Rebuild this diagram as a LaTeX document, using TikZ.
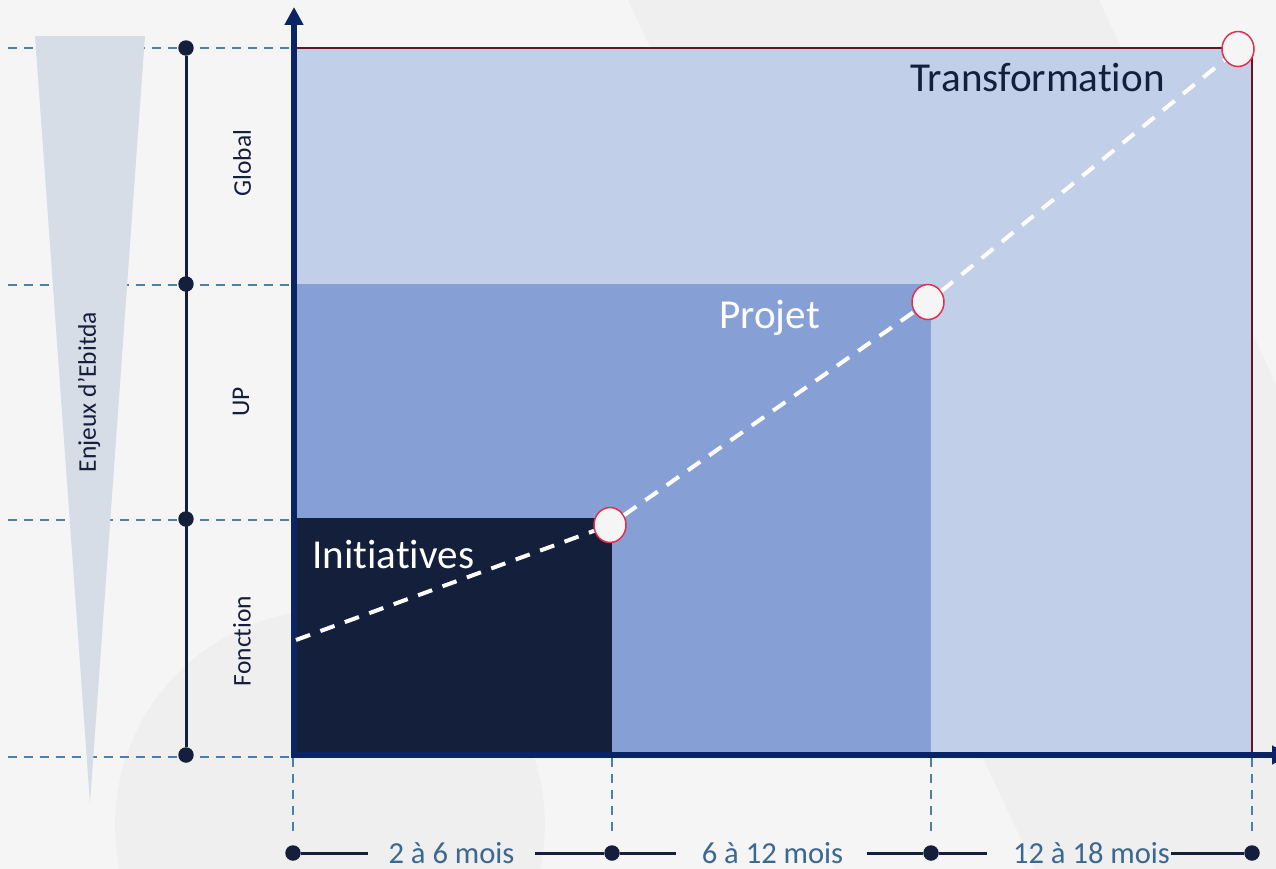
\documentclass[tikz,border=0pt]{standalone}
\usepackage{fontspec}
\setmainfont{Carlito}[Ligatures=NoCommon]
\usetikzlibrary{arrows.meta,shapes.geometric,calc}
\definecolor{bgc}{HTML}{F5F5F5}
\definecolor{bgshape}{HTML}{EFEFEF}
\definecolor{navy}{HTML}{0B2463}
\definecolor{ink}{HTML}{141F3B}
\definecolor{lightblue}{HTML}{C1CFE9}
\definecolor{midblue}{HTML}{86A0D6}
\definecolor{darkred}{HTML}{6D1022}
\definecolor{guide}{HTML}{4A80AA}
\definecolor{labelblue}{HTML}{3A6890}
\definecolor{circred}{HTML}{E0304E}
\definecolor{tri}{HTML}{D6DDE7}
\begin{document}
\begin{tikzpicture}[x=0.02cm,y=-0.02cm,
  guideline/.style={draw=guide,line width=0.04cm,dash pattern=on 0.18cm off 0.14cm},
  dot/.style={circle,fill=ink,inner sep=0pt,minimum size=0.31cm},
  milestone/.style={ellipse,draw=circred,line width=0.03cm,fill=bgc,inner sep=0pt,minimum width=0.64cm,minimum height=0.7cm},
  axisline/.style={draw=navy,line width=0.12cm,-{Triangle[width=0.36cm,length=0.36cm]}},
  sidelabel/.style={rotate=90,text=ink,font=\fontsize{14.5}{16}\selectfont,inner sep=0pt},
  phase/.style={font=\fontsize{23.4}{26}\selectfont,inner sep=0pt,anchor=base west},
  period/.style={text=labelblue,font=\fontsize{17.4}{20}\selectfont,inner sep=0pt,anchor=base},
  scaleline/.style={draw=ink,line width=0.06cm},
  pathline/.style={draw=white,line width=0.08cm,dash pattern=on 0.3cm off 0.22cm}
]
\useasboundingbox (0,0) rectangle (1276,869);
% background
\fill[bgc] (0,0) rectangle (1276,869);
\fill[bgshape] (628,0) -- (1099,0) -- (1499,869) -- (1035,869) -- cycle;
\fill[bgshape] (330,825) circle (4.3cm);
% horizontal guides
\foreach \yy in {48,285,520,757} \draw[guideline] (8,\yy) -- (293,\yy);
% Ebitda triangle
\fill[tri] (35,36) -- (145,36) -- (90,803) -- cycle;
\node[sidelabel] (enjeux) at (89,392) {Enjeux d’Ebitda};
% vertical scale
\node[dot] (v0) at (186,48) {};
\node[dot] (v1) at (186,284) {};
\node[dot] (v2) at (186,519) {};
\node[dot] (v3) at (186,755) {};
\draw[scaleline] (v0) -- (v3);
\node[sidelabel] (global) at (242,163) {Global};
\node[sidelabel] (up) at (241,402) {UP};
\node[sidelabel] (fonction) at (242,641) {Fonction};
% areas
\filldraw[fill=lightblue,draw=darkred,line width=0.05cm] (293,48) rectangle (1252,755);
\fill[midblue] (293,284) rectangle (931,755);
\fill[ink] (293,518) rectangle (612,755);
% vertical guides
\foreach \xx in {293,612,931,1252} \draw[guideline] (\xx,758) -- (\xx,834);
% axes
\draw[axisline] (294,758) -- (294,7);
\draw[axisline] (291,755) -- (1290,755);
% phase labels
\node[phase,text=ink] (tr) at (910,91) {Transformation};
\node[phase,text=white] (pj) at (719,328) {Projet};
\node[phase,text=white] (in) at (312,568) {Initiatives};
% milestones and path
\coordinate (s) at (296,640);
\node[milestone] (c1) at (610,525) {};
\node[milestone] (c2) at (928,302) {};
\node[milestone] (c3) at (1238,49) {};
\draw[pathline] (s) -- (c1);
\draw[pathline] (c1) -- (c2);
\draw[pathline] (c2) -- (c3);
% time line
\node[dot] (b0) at (293,853) {};
\node[dot] (b1) at (612,853) {};
\node[dot] (b2) at (931,853) {};
\node[dot] (b3) at (1252,853) {};
\node[period] (l1) at (451.5,863) {2 à 6 mois};
\node[period] (l2) at (772.5,863) {6 à 12 mois};
\node[period] (l3) at (1091.5,863) {12 à 18 mois};
\draw[scaleline] (b0) -- ($(b0 -| l1.west)+(-20,0)$);
\draw[scaleline] ($(b1 -| l1.east)+(20,0)$) -- (b1);
\draw[scaleline] (b1) -- ($(b1 -| l2.west)+(-25,0)$);
\draw[scaleline] ($(b2 -| l2.east)+(23,0)$) -- (b2);
\draw[scaleline] (b2) -- ($(b2 -| l3.west)+(-26,0)$);
\draw[scaleline] ($(b3 -| l3.east)+(1,0)$) -- (b3);
\end{tikzpicture}
\end{document}
